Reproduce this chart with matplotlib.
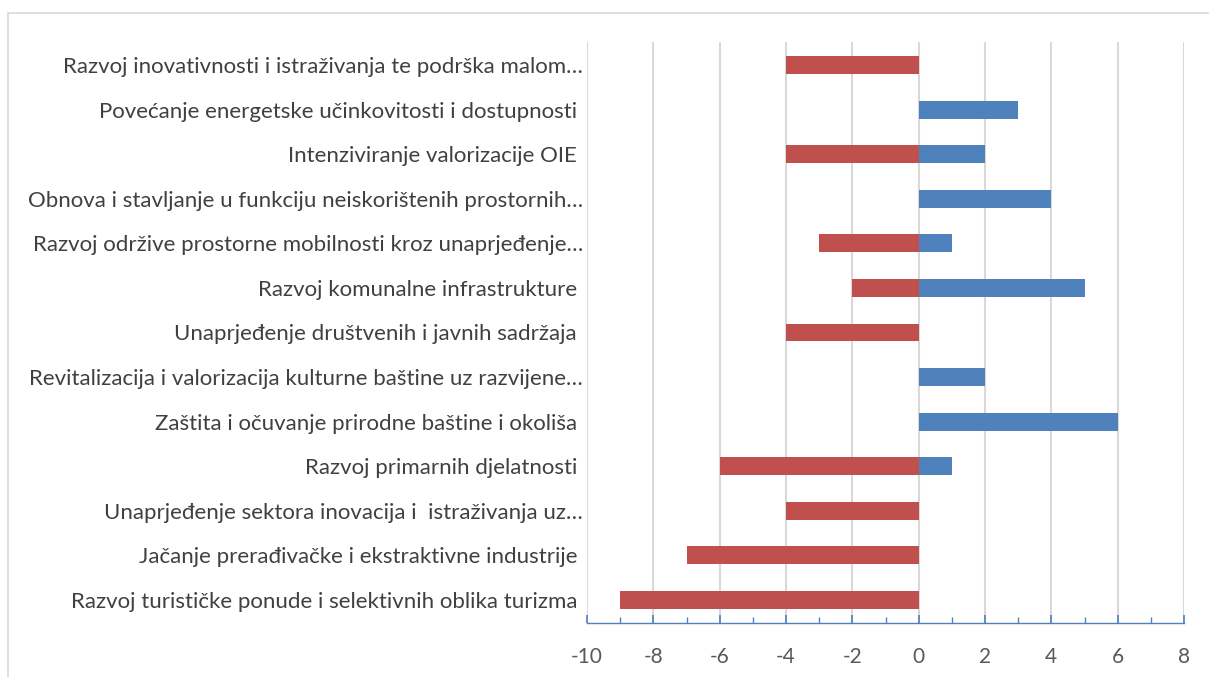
import matplotlib
matplotlib.use("Agg")
import matplotlib.pyplot as plt
from matplotlib.patches import Rectangle
from matplotlib.ticker import MultipleLocator

categories = [
    "Razvoj turističke ponude i selektivnih oblika turizma ",
    "Jačanje prerađivačke i ekstraktivne industrije ",
    "Unaprjeđenje sektora inovacija i  istraživanja uz…",
    "Razvoj primarnih djelatnosti ",
    "Zaštita i očuvanje prirodne baštine i okoliša ",
    "Revitalizacija i valorizacija kulturne baštine uz razvijene…",
    "Unaprjeđenje društvenih i javnih sadržaja ",
    "Razvoj komunalne infrastrukture ",
    "Razvoj održive prostorne mobilnosti kroz unaprjeđenje…",
    "Obnova i stavljanje u funkciju neiskorištenih prostornih…",
    "Intenziviranje valorizacije OIE ",
    "Povećanje energetske učinkovitosti i dostupnosti ",
    "Razvoj inovativnosti i istraživanja te podrška malom…",
]
negative = [-9, -7, -4, -6, 0, 0, -4, -2, -3, 0, -4, 0, -4]
positive = [0, 0, 0, 1, 6, 2, 0, 5, 1, 4, 2, 3, 0]
xticks = [-10, -8, -6, -4, -2, 0, 2, 4, 6, 8]

plt.rcParams['font.family'] = ['Lato', 'DejaVu Sans']

fig = plt.figure(figsize=(12.09, 6.77), dpi=100)
ax = fig.add_axes([587/1209, 1-623/677, (1184-587)/1209, (623-42)/677])

ypos = list(range(len(categories)))
ax.barh(ypos, negative, height=0.4, color="#C0504D", zorder=3)
ax.barh(ypos, positive, height=0.4, color="#4F81BD", zorder=3)

ax.set_xlim(-10, 8)
ax.set_ylim(-0.52, len(categories) - 0.48)
ax.set_xticks(xticks)
ax.set_xticklabels([str(v) for v in xticks])
ax.xaxis.set_minor_locator(MultipleLocator(1))
ax.set_yticks(ypos)
ax.set_yticklabels(categories)

ax.grid(axis="x", color="#D9D9D9", linewidth=1.5, zorder=0)
for side in ["top", "right", "left"]:
    ax.spines[side].set_visible(False)
ax.spines["bottom"].set_color("#4F81BD")
ax.spines["bottom"].set_linewidth(1.0)
ax.spines["bottom"].set_zorder(4)

ax.tick_params(axis="x", which="major", direction="in", length=6, width=1.2,
               color="#4F81BD", labelsize=15, labelcolor="#595959", pad=17)
ax.tick_params(axis="x", which="minor", direction="in", length=4, width=1.0,
               color="#4F81BD")
ax.tick_params(axis="y", length=0, labelsize=16, labelcolor="#404040", pad=3)

fig.patches.append(Rectangle((8/1209, -0.05), 1.1, 1 - 13/677 + 0.05,
                             transform=fig.transFigure, fill=False,
                             edgecolor="#D9D9D9", linewidth=1.2))

fig.savefig("out.png", dpi=100)
